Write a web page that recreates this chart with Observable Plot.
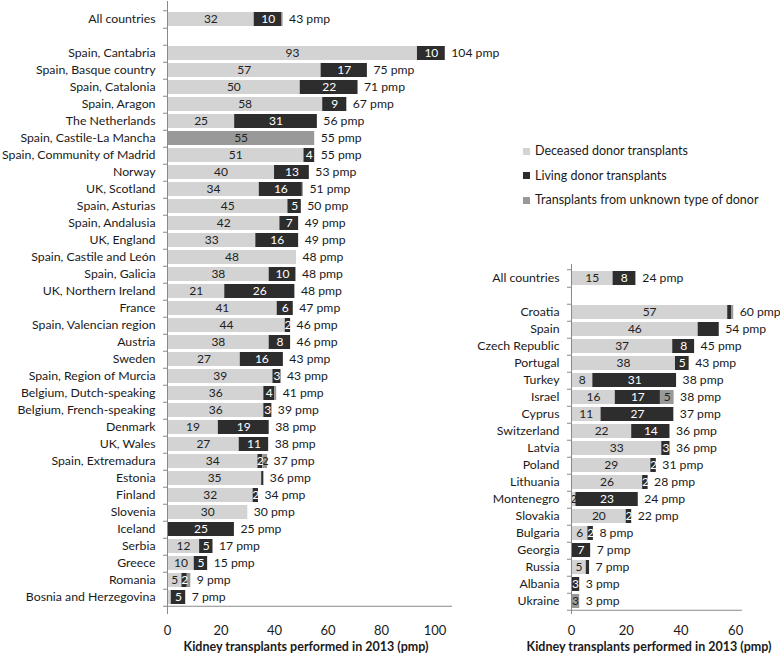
<!DOCTYPE html>
<html><head><meta charset="utf-8">
<script src="https://cdn.jsdelivr.net/npm/d3@7"></script>
<script src="https://cdn.jsdelivr.net/npm/@observablehq/plot@0.6"></script>
<style>
body{margin:0;background:#fff;font-family:Lato,"Noto Sans",sans-serif;color:#1a1a1a;}
#wrap{position:relative;width:780px;height:658px;overflow:hidden;}
.panel{position:absolute;top:0;overflow:visible;}
.xtitle{position:absolute;font-weight:bold;font-size:12.5px;white-space:nowrap;transform:translateX(-50%);top:639px;}
.legend{position:absolute;left:523px;top:139px;font-size:12.5px;}
.legend div{height:24.5px;line-height:16px;display:flex;align-items:center;gap:5px;}
.legend span.sw{display:inline-block;width:7px;height:7px;}
</style></head><body><div id="wrap"></div>
<script>
// ---- data ----
const seriesNames = ["Deceased donor transplants", "Living donor transplants", "Transplants from unknown type of donor"];
const seriesColors = ["#d3d3d3", "#2d2d2d", "#999999"];

const leftCategories = ["All countries", "", "Spain, Cantabria", "Spain, Basque country", "Spain, Catalonia", "Spain, Aragon", "The Netherlands", "Spain, Castile-La Mancha", "Spain, Community of Madrid", "Norway", "UK, Scotland", "Spain, Asturias", "Spain, Andalusia", "UK, England", "Spain, Castile and León", "Spain, Galicia", "UK, Northern Ireland", "France", "Spain, Valencian region", "Austria", "Sweden", "Spain, Region of Murcia", "Belgium, Dutch-speaking", "Belgium, French-speaking", "Denmark", "UK, Wales", "Spain, Extremadura", "Estonia", "Finland", "Slovenia", "Iceland", "Serbia", "Greece", "Romania", "Bosnia and Herzegovina"];
const leftDeceased = [32.4, 0, 93.4, 57.4, 49.6, 58, 25.1, 0, 51, 40, 34.3, 45, 42, 33, 48.2, 38, 21.4, 41, 44, 38, 27.2, 39.4, 36, 36, 19, 26.8, 33.8, 35.2, 32, 30, 0, 12, 10, 5.4, 1.4];
const leftLiving = [10.4, 0, 10.4, 17.3, 21.6, 9, 30.9, 0, 4, 13, 16.1, 5, 7, 16, 0, 10, 26.2, 6, 2, 8, 16.1, 3, 4, 3, 19, 11, 1.8, 0.8, 2, 0, 25, 5, 5, 2, 5.4];
const leftUnknown = [0.4, 0, 0, 0, 0, 0, 0, 55, 0, 0, 0.4, 0, 0, 0, 0, 0, 0, 0, 0, 0, 0, 0, 0.8, 0, 0, 0, 1.8, 0, 0, 0, 0, 0, 0, 1.3, 0];
const leftTotals = [43, null, 104, 75, 71, 67, 56, 55, 55, 53, 51, 50, 49, 49, 48, 48, 48, 47, 46, 46, 43, 43, 41, 39, 38, 38, 37, 36, 34, 30, 25, 17, 15, 9, 7];
const leftTicks = [0, 20, 40, 60, 80, 100];

const rightCategories = ["All countries", "", "Croatia", "Spain", "Czech Republic", "Portugal", "Turkey", "Israel", "Cyprus", "Switzerland", "Latvia", "Poland", "Lithuania", "Montenegro", "Slovakia", "Bulgaria", "Georgia", "Russia", "Albania", "Ukraine"];
const rightDeceased = [15.2, 0, 57.1, 46.3, 37, 38, 7.8, 16, 10.8, 22, 33, 29, 26, 1.6, 20, 6, 0, 5.4, 0, 0];
const rightLiving = [8.2, 0, 1.4, 7.7, 8, 5, 30.6, 16.5, 26.6, 14, 3, 2, 2, 22.8, 2, 2, 7, 1.2, 3, 0];
const rightUnknown = [0.3, 0, 0.8, 0, 0, 0, 0, 5, 0, 0, 0, 0, 0, 0, 0, 0, 0, 0, 0, 3];
const rightTotals = [24, null, 60, 54, 45, 43, 38, 38, 37, 36, 36, 31, 28, 24, 22, 8, 7, 7, 3, 3];
const rightTicks = [0, 20, 40, 60];

const hiddenLabels = ["Spain|1"];
const axisTitle = "Kidney transplants performed in 2013 (pmp)";

// ---- build ----
function buildRows(cats, dec, liv, unk) {
  const rows = [];
  cats.forEach((c, i) => {
    [dec[i], liv[i], unk[i]].forEach((v, s) => {
      if (v > 0) rows.push({cat: c, type: seriesNames[s], s, value: v,
        label: (v >= 1.5 && !hiddenLabels.includes(c + "|" + s)) ? String(Math.round(v)) : ""});
    });
  });
  return rows;
}

function panel({cats, dec, liv, unk, totals, ticks, xmax, width, marginLeft, marginRight, marginTop, marginBottom}) {
  const rows = buildRows(cats, dec, liv, unk);
  const totalRows = cats.map((c, i) => ({cat: c, sum: dec[i] + liv[i] + unk[i], total: totals[i]})).filter(d => d.total != null);
  const height = 658;
  const step = (height - marginTop - marginBottom) / cats.length;
  const tickUnits = 4 * xmax / (width - marginLeft - marginRight);
  return Plot.plot({
    width, height, marginLeft, marginRight, marginTop, marginBottom,
    style: {fontFamily: "Lato, 'Noto Sans', sans-serif", fontSize: "12.5px", color: "#1a1a1a", background: "transparent", overflow: "visible"},
    x: {domain: [0, xmax], label: null},
    y: {domain: cats, paddingInner: 0.2, paddingOuter: 0.1, label: null},
    color: {domain: seriesNames, range: seriesColors},
    marks: [
      Plot.barX(rows, {y: "cat", x: "value", fill: "type"}),
      Plot.text(rows, Plot.stackX({y: "cat", x: "value", text: d => d.s === 1 ? "" : d.label, fill: "#222", fontSize: 12})),
      Plot.text(rows, Plot.stackX({y: "cat", x: "value", text: d => d.s === 1 ? d.label : "", fill: "white", fontSize: 12})),
      Plot.text(totalRows, {y: "cat", x: "sum", text: d => d.total + " pmp", textAnchor: "start", dx: 6, fill: "#1a1a1a", fontSize: 12.2}),
      Plot.ruleX([0], {stroke: "#8a8a8a"}),
      Plot.ruleY(cats, {y: d => d, x1: 0, x2: tickUnits, dx: -4, dy: step / 2, stroke: "#8a8a8a"}),
      Plot.ruleY([cats[0]], {y: d => d, x1: 0, x2: tickUnits, dx: -4, dy: -step / 2, stroke: "#8a8a8a"}),
      Plot.ruleY([cats[cats.length - 1]], {y: d => d, x1: 0, x2: xmax, dy: step / 2, stroke: "#8a8a8a"}),
      Plot.axisY({tickSize: 0, tickPadding: 12, fontSize: 12.3, label: null}),
      Plot.axisX({ticks, tickSize: 0, tickPadding: 11, fontSize: 13, label: null})
    ]
  });
}

const wrap = document.getElementById("wrap");
const left = panel({cats: leftCategories, dec: leftDeceased, liv: leftLiving, unk: leftUnknown, totals: leftTotals, ticks: leftTicks, xmax: 106.5,
  width: 460, marginLeft: 167, marginRight: 8, marginTop: 1, marginBottom: 44});
left.classList.add("panel"); left.style.left = "0px";
wrap.appendChild(left);

const right = panel({cats: rightCategories, dec: rightDeceased, liv: rightLiving, unk: rightUnknown, totals: rightTotals, ticks: rightTicks, xmax: 62.5,
  width: 320, marginLeft: 111, marginRight: 38, marginTop: 264, marginBottom: 44});
right.classList.add("panel"); right.style.left = "460px";
wrap.appendChild(right);

// axis titles
[[306], [649]].forEach(([cx]) => {
  const t = document.createElement("div");
  t.className = "xtitle"; t.style.left = cx + "px"; t.textContent = axisTitle;
  wrap.appendChild(t);
});

// legend
const lg = document.createElement("div");
lg.className = "legend";
seriesNames.forEach((n, i) => {
  const row = document.createElement("div");
  const sw = document.createElement("span"); sw.className = "sw"; sw.style.background = seriesColors[i];
  const tx = document.createElement("span"); tx.textContent = n;
  row.appendChild(sw); row.appendChild(tx); lg.appendChild(row);
});
wrap.appendChild(lg);
</script></body></html>
